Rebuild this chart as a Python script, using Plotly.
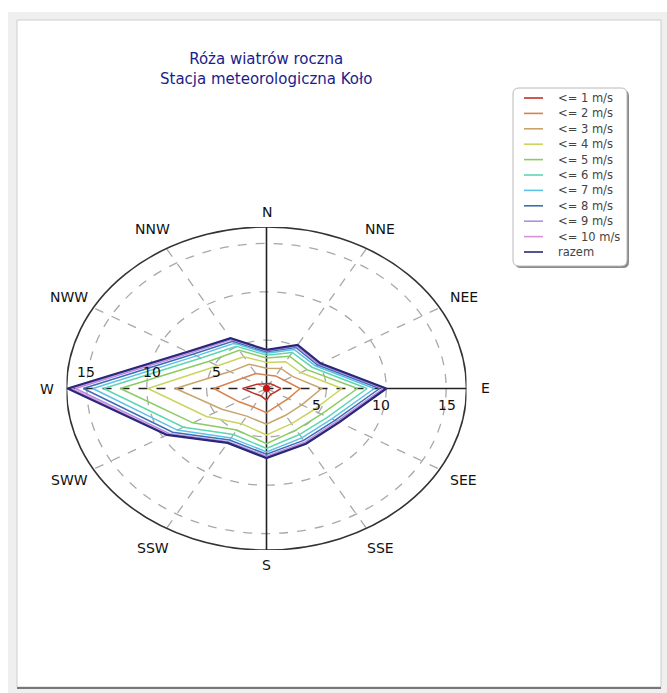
import numpy as np
import plotly.graph_objects as go

# ---- data: cumulative wind frequency (%) per direction ----
directions = ["N", "NNE", "NEE", "E", "SEE", "SSE", "S", "SSW", "SWW", "W", "NWW", "NNW"]
angles_deg = [0, 30, 60, 90, 120, 150, 180, 210, 240, 270, 300, 330]

series_names = ["<= 1 m/s", "<= 2 m/s", "<= 3 m/s", "<= 4 m/s", "<= 5 m/s", "<= 6 m/s",
                "<= 7 m/s", "<= 8 m/s", "<= 9 m/s", "<= 10 m/s", "razem"]

le1 = [0.5, 0.6, 0.7, 1.2, 0.8, 0.7, 1.2, 0.9, 1.1, 2.0, 0.9, 0.6]
le2 = [1.4, 1.5, 1.7, 2.8, 2.1, 2.0, 2.5, 2.2, 2.7, 4.4, 2.2, 1.8]
le3 = [2.1, 2.4, 2.5, 4.6, 3.4, 3.2, 3.7, 3.3, 4.3, 7.6, 3.5, 2.9]
le4 = [2.7, 3.2, 3.3, 6.3, 4.5, 4.2, 4.8, 4.2, 5.8, 9.9, 4.7, 3.8]
le5 = [3.15, 3.85, 3.9, 7.6, 5.3, 4.95, 5.7, 4.95, 7.1, 12.2, 5.6, 4.55]
le6 = [3.45, 4.3, 4.4, 8.4, 5.9, 5.5, 6.2, 5.5, 8.0, 13.6, 6.3, 5.05]
le7 = [3.65, 4.65, 4.7, 9.0, 6.3, 5.9, 6.55, 5.9, 8.6, 14.5, 6.75, 5.4]
le8 = [3.8, 4.9, 4.9, 9.45, 6.6, 6.2, 6.8, 6.15, 9.05, 15.3, 7.1, 5.65]
le9 = [3.9, 5.05, 5.05, 9.75, 6.8, 6.4, 7.0, 6.35, 9.35, 15.95, 7.35, 5.85]
le10 = [3.95, 5.15, 5.15, 9.9, 6.9, 6.5, 7.1, 6.45, 9.5, 16.3, 7.5, 5.95]
razem = [4.0, 5.2, 5.2, 10.0, 7.0, 6.6, 7.2, 6.5, 9.6, 16.6, 7.6, 6.0]

all_series = [le1, le2, le3, le4, le5, le6, le7, le8, le9, le10, razem]

ring_ticks = [5, 10, 15]
r_max = 16.7

# ---- styling ----
colors = ["#c0302a", "#d9824a", "#c9a46a", "#cad45e", "#88cc62", "#5fd6b0",
          "#5cc0e8", "#3c6eb4", "#b48ce6", "#d890d8", "#28287a"]
widths = [1.5] * 10 + [2.2]

W, H = 667, 693
FONT = "DejaVu Sans"

# plot area in pixels (centre and half-extents of the rose)
CX, CY, RX, RY = 266.5, 388.5, 200.0, 161.5


def px(x):
    return x / W


def py(y):
    return 1 - y / H


def data_to_paper(x, y):
    return px(CX + x / r_max * RX), py(CY - y / r_max * RY)


theta = np.deg2rad(np.array(angles_deg, dtype=float))


def polar_xy(r):
    r = np.asarray(r, dtype=float)
    rr = np.append(r, r[0])
    tt = np.append(theta, theta[0])
    return rr * np.sin(tt), rr * np.cos(tt)


fig = go.Figure()

for name, vals, col, w in zip(series_names, all_series, colors, widths):
    x, y = polar_xy(vals)
    fig.add_trace(go.Scatter(x=x, y=y, mode="lines", name=name,
                             line=dict(color=col, width=w), showlegend=False,
                             hoverinfo="name"))

# centre marker
fig.add_trace(go.Scatter(x=[0], y=[0], mode="markers", showlegend=False,
                         marker=dict(color="#d01010", size=7, symbol="circle"),
                         hoverinfo="skip"))

shapes = []
# page frame
shapes.append(dict(type="rect", xref="paper", yref="paper", x0=px(8), x1=px(667),
                   y0=py(693), y1=py(12), fillcolor="#efefef", line=dict(width=0),
                   layer="below"))
shapes.append(dict(type="rect", xref="paper", yref="paper", x0=px(17), x1=px(661),
                   y0=py(687), y1=py(20), fillcolor="#ffffff",
                   line=dict(color="#cccccc", width=1), layer="below"))
shapes.append(dict(type="line", xref="paper", yref="paper", x0=px(17), x1=px(661),
                   y0=py(688), y1=py(688), line=dict(color="#777777", width=2),
                   layer="below"))

# dashed rings
for v in ring_ticks:
    shapes.append(dict(type="circle", xref="x", yref="y", x0=-v, x1=v, y0=-v, y1=v,
                       line=dict(color="#a8a8a8", width=1.3, dash="dash"),
                       layer="below"))
# dashed radial spokes
for a in angles_deg:
    if a % 90 == 0:
        continue
    t = np.deg2rad(a)
    shapes.append(dict(type="line", xref="x", yref="y", x0=0, y0=0,
                       x1=r_max * np.sin(t), y1=r_max * np.cos(t),
                       line=dict(color="#a8a8a8", width=1.3, dash="dash"),
                       layer="below"))
# outer circle
shapes.append(dict(type="circle", xref="x", yref="y", x0=-r_max, x1=r_max,
                   y0=-r_max, y1=r_max, line=dict(color="#333333", width=1.6),
                   layer="below"))
# N-S axis (solid) and W-E axis (dashed inside the rose, solid outside)
shapes.append(dict(type="line", xref="x", yref="y", x0=0, x1=0, y0=-r_max, y1=r_max,
                   line=dict(color="#222222", width=1.6), layer="below"))
e_val = razem[directions.index("E")]
shapes.append(dict(type="line", xref="x", yref="y", x0=-r_max, x1=e_val, y0=0, y1=0,
                   line=dict(color="#222222", width=1.6, dash="dash"), layer="below"))
shapes.append(dict(type="line", xref="x", yref="y", x0=e_val, x1=r_max, y0=0, y1=0,
                   line=dict(color="#222222", width=1.6), layer="below"))

annotations = []
# title
annotations.append(dict(xref="paper", yref="paper", x=px(266), y=py(68.5),
                        text="Róża wiatrów roczna<br>Stacja meteorologiczna Koło",
                        showarrow=False, xanchor="center", yanchor="middle",
                        font=dict(family=FONT, size=15, color="#1c1c8c")))
# direction labels (placed just outside the outer circle)
for d, a in zip(directions, angles_deg):
    t = np.deg2rad(a)
    rl = 18.3 if a % 90 == 0 else 19.0
    xp, yp = data_to_paper(rl * np.sin(t), rl * np.cos(t))
    annotations.append(dict(xref="paper", yref="paper", x=xp, y=yp,
                            text=d, showarrow=False, xanchor="center",
                            yanchor="middle",
                            font=dict(family=FONT, size=14, color="#111111")))
# ring value labels
for v in ring_ticks:
    xv = 1.09 * v - 1.3
    for sx, sy in ((-1, 1), (1, -1)):
        xp, yp = data_to_paper(sx * xv, sy * 1.7)
        annotations.append(dict(xref="paper", yref="paper", x=xp, y=yp, text=str(v),
                                showarrow=False, xanchor="center", yanchor="middle",
                                font=dict(family=FONT, size=14, color="#111111")))

# legend box
lx0, lx1, ly0, ly1 = 513, 627, 88, 266
rad = 6


def rounded_path(x0, y0, x1, y1, r):
    return (f"M {px(x0 + r)},{py(y0)} L {px(x1 - r)},{py(y0)} "
            f"Q {px(x1)},{py(y0)} {px(x1)},{py(y0 + r)} "
            f"L {px(x1)},{py(y1 - r)} Q {px(x1)},{py(y1)} {px(x1 - r)},{py(y1)} "
            f"L {px(x0 + r)},{py(y1)} Q {px(x0)},{py(y1)} {px(x0)},{py(y1 - r)} "
            f"L {px(x0)},{py(y0 + r)} Q {px(x0)},{py(y0)} {px(x0 + r)},{py(y0)} Z")


shapes.append(dict(type="path", xref="paper", yref="paper",
                   path=rounded_path(lx0 + 2, ly0 + 2, lx1 + 2, ly1 + 2, rad),
                   fillcolor="#8a8a8a", line=dict(width=0), layer="below"))
shapes.append(dict(type="path", xref="paper", yref="paper",
                   path=rounded_path(lx0, ly0, lx1, ly1, rad),
                   fillcolor="#ffffff", line=dict(color="#b8b8b8", width=1),
                   layer="below"))
for i, (name, col) in enumerate(zip(series_names, colors)):
    yy = 98 + 15.4 * i
    shapes.append(dict(type="line", xref="paper", yref="paper", x0=px(524), x1=px(543),
                       y0=py(yy), y1=py(yy), line=dict(color=col, width=1.6)))
    annotations.append(dict(xref="paper", yref="paper", x=px(556), y=py(yy),
                            text=name.replace("<", "&lt;"), showarrow=False,
                            xanchor="left", yanchor="middle",
                            font=dict(family=FONT, size=11.5, color="#444444")))

fig.update_layout(
    width=W, height=H,
    margin=dict(l=0, r=0, t=0, b=0),
    paper_bgcolor="#ffffff",
    plot_bgcolor="rgba(0,0,0,0)",
    showlegend=False,
    xaxis=dict(domain=[px(CX - RX), px(CX + RX)], range=[-r_max, r_max], visible=False,
               fixedrange=True),
    yaxis=dict(domain=[py(CY + RY), py(CY - RY)], range=[-r_max, r_max], visible=False,
               fixedrange=True),
    shapes=shapes,
    annotations=annotations,
)

fig.write_html("out.html")
